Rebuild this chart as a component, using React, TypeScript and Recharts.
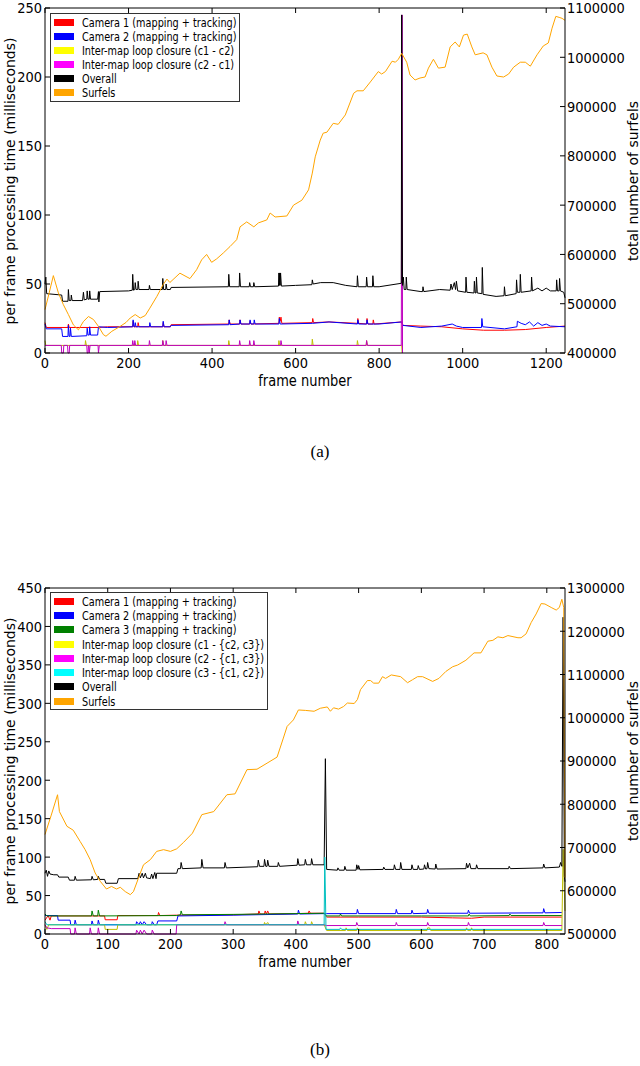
import { LineChart, Line, XAxis, YAxis, ReferenceLine } from 'recharts';

// ---------- chart (a): two cameras ----------
const FRAME_TICKS_A = [0, 200, 400, 600, 800, 1000, 1200];
const TIME_TICKS_A = [0, 50, 100, 150, 200, 250];
const SURFEL_TICKS_A = [400000, 500000, 600000, 700000, 800000, 900000, 1000000, 1100000];

const NAMES_A = [
  'Camera 1 (mapping + tracking)',
  'Camera 2 (mapping + tracking)',
  'Inter-map loop closure (c1 - c2)',
  'Inter-map loop closure (c2 - c1)',
  'Overall',
  'Surfels',
];
const SWATCH_A = ['#ff0000', '#0000ff', '#ffff00', '#ff00ff', '#000000', '#ffa500'];
const STROKE_A = ['#ff0000', '#0000ff', '#bfbf00', '#bf00bf', '#000000', '#ffa500'];

// [frame, milliseconds]
const cam1A = [
  [0, 22], [3, 18.5], [55, 18.5], [56, 21], [58, 18.5], [128, 18.5], [150, 19], [210, 19], [211, 23], [213, 19],
  [222, 19], [223, 22], [225, 19], [282, 19], [283, 22], [285, 19], [300, 19], [302, 20.5], [440, 21], [441, 24],
  [443, 21], [466, 21], [467, 24], [469, 21], [490, 21], [491, 23], [493, 21], [560, 21.5], [561, 26], [563, 23],
  [565, 26], [567, 21.5], [640, 22], [641, 25], [643, 22], [680, 22.5], [748, 21.5], [749, 25], [751, 21.5],
  [770, 21], [771, 25], [773, 21], [785, 21], [786, 24], [788, 21], [854, 22.5], [857, 20], [900, 19.5],
  [950, 19], [1000, 17.5], [1050, 16.5], [1100, 16.5], [1150, 17], [1200, 18.5], [1245, 19.5],
];
const cam2A = [
  [0, 21], [3, 17.5], [40, 17.5], [42, 12], [55, 12], [56, 20], [58, 12], [60, 12], [61, 18], [63, 12],
  [100, 12.5], [101, 18], [103, 13], [106, 13], [107, 19], [109, 13], [126, 13], [128, 19], [150, 18.5],
  [210, 19], [211, 24], [213, 19], [215, 19], [216, 22], [218, 19], [250, 19], [251, 22], [253, 19], [282, 19],
  [283, 23], [285, 19], [300, 19], [302, 20], [440, 20.5], [441, 24], [443, 20.5], [466, 21], [467, 24], [469, 21],
  [490, 21], [491, 24], [493, 21], [500, 21], [501, 24], [503, 21], [560, 21], [561, 25], [563, 21], [640, 21.5],
  [680, 22.5], [748, 21], [749, 24], [751, 21], [770, 21], [771, 24], [773, 21], [800, 21], [854, 22.5],
  [857, 20], [900, 18.5], [950, 19.5], [975, 21], [985, 19.5], [1000, 18.5], [1045, 18.5], [1046, 25],
  [1048, 19], [1100, 17.5], [1130, 19], [1131, 23], [1140, 21.5], [1150, 20.5], [1160, 22.5], [1170, 19.5],
  [1180, 22], [1190, 20], [1200, 21], [1210, 19.5], [1245, 19],
];
const loopC1C2A = [
  [0, 9], [2, 5.5], [96, 5.5], [97, 9], [99, 5.5], [221, 5.5], [222, 9], [224, 5.5], [281, 5.5], [282, 9],
  [284, 5.5], [439, 5.5], [440, 9], [442, 5.5], [559, 5.5], [560, 9], [562, 5.5], [639, 5.5], [640, 10],
  [642, 5.5], [747, 5.5], [748, 9], [750, 5.5], [769, 5.5], [770, 9], [772, 5.5], [854, 5.5], [855, 0],
];
const loopC2C1A = [
  [0, 5.5], [39, 5.5], [40, 0], [44, 0], [45, 5.5], [54, 5.5], [55, 0], [58, 0], [59, 5.5], [100, 5.5],
  [101, 0], [103, 0], [104, 5.5], [105, 5.5], [106, 0], [108, 5.5], [127, 5.5], [128, 0], [130, 5.5],
  [209, 5.5], [210, 9], [212, 5.5], [214, 5.5], [215, 9], [217, 5.5], [249, 5.5], [250, 9], [252, 5.5],
  [281, 5.5], [282, 9], [284, 5.5], [289, 5.5], [290, 9], [292, 5.5], [465, 5.5], [466, 9], [468, 5.5],
  [489, 5.5], [490, 9], [492, 5.5], [499, 5.5], [500, 9], [502, 5.5], [564, 5.5], [565, 9], [567, 5.5],
  [769, 5.5], [770, 9], [772, 5.5], [853, 5.5], [855, 245], [856, 0],
];
const overallA = [
  [0, 50], [2, 55], [4, 43], [40, 42], [42, 37.5], [55, 37.5], [56, 46], [58, 38], [62, 38], [63, 42], [65, 38],
  [90, 38], [92, 44], [94, 38.5], [100, 39], [101, 45], [103, 39], [106, 39], [107, 45], [109, 39], [126, 39],
  [128, 44.5], [129, 37], [131, 44.5], [200, 45], [209, 45.5], [210, 57], [212, 45.5], [215, 46], [216, 51],
  [218, 46], [222, 46], [223, 52], [225, 46], [249, 46], [250, 49], [252, 46], [281, 46], [282, 54], [284, 46],
  [289, 46], [290, 50], [292, 46], [300, 46], [302, 47.5], [439, 48], [440, 57], [442, 48], [465, 48], [466, 58],
  [468, 48], [489, 48], [490, 51], [492, 48], [499, 48], [500, 51], [502, 48], [559, 48.5], [560, 58], [561, 49],
  [562, 58], [563, 49], [564, 58], [566, 48.5], [600, 49], [639, 49.5], [640, 53], [642, 50], [660, 51],
  [690, 51], [720, 49], [747, 48], [748, 56], [750, 48], [769, 48], [770, 55], [772, 48], [784, 48], [785, 56],
  [787, 48], [800, 48], [853, 50.5], [854, 245], [856, 49], [858, 55], [860, 46], [864, 46], [865, 55], [867, 46],
  [900, 44.5], [904, 44.5], [905, 48], [907, 44.5], [945, 46], [970, 45.5], [972, 50], [975, 46], [980, 51],
  [983, 46], [985, 52], [988, 45], [1007, 44], [1008, 55], [1010, 44], [1027, 43.5], [1028, 52], [1030, 43.5],
  [1032, 43.5], [1033, 55], [1035, 43.5], [1046, 43], [1047, 62], [1049, 42.5], [1080, 41], [1099, 41.5],
  [1100, 48], [1102, 41.5], [1128, 43], [1129, 53], [1131, 44], [1137, 44], [1138, 57], [1140, 44], [1164, 45],
  [1165, 55], [1167, 45], [1180, 47], [1190, 45], [1200, 47], [1210, 45], [1224, 45], [1225, 53], [1227, 45],
  [1231, 45], [1232, 54], [1234, 45], [1242, 44], [1245, 40],
];
// [frame, surfels]
const surfelsA = [
  [0, 488000], [10, 522000], [20, 557000], [32, 522000], [44, 498000], [56, 478000], [68, 457000], [80, 447000],
  [92, 464000], [104, 474000], [116, 468000], [128, 454000], [140, 437000], [146, 434000], [160, 444000],
  [180, 454000], [194, 462000], [204, 471000], [216, 478000], [228, 471000], [240, 476000], [251, 491000],
  [268, 515000], [283, 539000], [292, 550000], [299, 543000], [323, 562000], [347, 551000], [363, 569000],
  [375, 589000], [387, 600000], [399, 584000], [411, 591000], [427, 603000], [443, 616000], [459, 630000],
  [467, 656000], [483, 666000], [500, 656000], [511, 664000], [531, 670000], [539, 684000], [551, 676000],
  [579, 678000], [595, 700000], [615, 710000], [631, 731000], [640, 765000], [647, 798000], [659, 832000],
  [666, 846000], [675, 848000], [690, 866000], [702, 864000], [719, 883000], [739, 927000], [747, 932000],
  [762, 932000], [779, 950000], [798, 971000], [806, 966000], [815, 971000], [831, 992000], [839, 990000],
  [846, 996000], [854, 1008000], [866, 990000], [874, 964000], [886, 954000], [898, 958000], [910, 960000],
  [918, 978000], [930, 996000], [942, 978000], [958, 980000], [970, 1021000], [982, 1031000], [992, 1021000],
  [1002, 1045000], [1011, 1047000], [1022, 1021000], [1030, 1005000], [1049, 1009000], [1058, 1005000],
  [1070, 980000], [1082, 962000], [1098, 960000], [1110, 966000], [1122, 980000], [1138, 990000],
  [1150, 990000], [1162, 982000], [1178, 1005000], [1193, 1023000], [1205, 1029000], [1214, 1059000],
  [1223, 1083000], [1231, 1081000], [1238, 1079000], [1245, 1075000],
];

// ---------- chart (b): three cameras ----------
const FRAME_TICKS_B = [0, 100, 200, 300, 400, 500, 600, 700, 800];
const TIME_TICKS_B = [0, 50, 100, 150, 200, 250, 300, 350, 400, 450];
const SURFEL_TICKS_B = [500000, 600000, 700000, 800000, 900000, 1000000, 1100000, 1200000, 1300000];

const NAMES_B = [
  'Camera 1 (mapping + tracking)',
  'Camera 2 (mapping + tracking)',
  'Camera 3 (mapping + tracking)',
  'Inter-map loop closure (c1 - {c2, c3})',
  'Inter-map loop closure (c2 - {c1, c3})',
  'Inter-map loop closure (c3 - {c1, c2})',
  'Overall',
  'Surfels',
];
const SWATCH_B = ['#ff0000', '#0000ff', '#008000', '#ffff00', '#ff00ff', '#00ffff', '#000000', '#ffa500'];
const STROKE_B = ['#ff0000', '#0000ff', '#008000', '#bfbf00', '#bf00bf', '#00bfbf', '#000000', '#ffa500'];

const cam1B = [
  [0, 18], [5, 24], [8, 18], [10, 23.5], [95, 23.5], [96, 18.5], [115, 18.5], [116, 24], [180, 24], [181, 28],
  [183, 24], [210, 24.5], [300, 25], [340, 26], [341, 30], [343, 26], [350, 26], [351, 30], [353, 26], [355, 30],
  [357, 26], [400, 26.5], [420, 27], [421, 30], [423, 27], [445, 27], [449, 22], [500, 22], [600, 22], [650, 21],
  [680, 20.5], [700, 22], [824, 22],
];
const cam2B = [
  [0, 24], [20, 24], [21, 18], [40, 18], [41, 12], [47, 12], [48, 18], [50, 12], [74, 12], [75, 17], [77, 12],
  [84, 12], [85, 18], [87, 12], [145, 12], [146, 16], [150, 12], [152, 16], [155, 12], [158, 16], [162, 12],
  [170, 12], [171, 16], [174, 12], [178, 12], [180, 17], [210, 17], [212, 23.5], [300, 24.5], [403, 26],
  [404, 31], [406, 26], [445, 26.5], [449, 26.5], [497, 26.5], [498, 32], [500, 26.5], [559, 26.5], [560, 32],
  [562, 26.5], [584, 26.5], [585, 31], [587, 26.5], [609, 27], [610, 32], [612, 27], [674, 27], [675, 31],
  [677, 27], [794, 27.5], [795, 33], [797, 27.5], [824, 28],
];
const cam3B = [
  [0, 26], [3, 23.5], [74, 23.5], [75, 30], [77, 23.5], [84, 23.5], [85, 31], [87, 23.5], [210, 24], [216, 25],
  [217, 30], [219, 25], [300, 25.5], [400, 26.5], [445, 27], [449, 23.5], [470, 23.5], [471, 26], [473, 23.5],
  [600, 23.5], [675, 23.5], [676, 26], [678, 23.5], [740, 24], [741, 26], [743, 24], [824, 24],
];
const loopC1B = [
  [0, 12], [3, 6], [6, 12], [95, 12], [96, 6], [115, 6], [116, 12], [349, 12], [350, 15], [352, 12], [355, 15],
  [357, 12], [414, 12], [415, 16], [417, 12], [424, 12], [425, 16], [427, 12], [445, 12], [449, 4.5], [479, 4.5],
  [480, 8], [482, 4.5], [497, 4.5], [498, 8], [500, 4.5], [609, 4.5], [610, 8], [613, 8], [615, 4.5],
  [671, 4.5], [672, 8], [674, 4.5], [679, 4.5], [680, 8], [682, 4.5], [824, 4.5], [826, 110], [829, 30],
];
const loopC2B = [
  [0, 12], [3, 8], [10, 7], [40, 7], [41, 0], [47, 0], [48, 8], [50, 0], [71, 0], [72, 8], [74, 0], [84, 0],
  [85, 8], [87, 0], [145, 0], [146, 5], [150, 0], [152, 5], [155, 0], [158, 5], [162, 0], [170, 0], [171, 5],
  [174, 0], [209, 0], [210, 12], [286, 12], [287, 16], [289, 12], [402, 12], [403, 17], [405, 12], [445, 12],
  [449, 11], [496, 11], [497, 15], [499, 11], [559, 11], [560, 15], [562, 11], [609, 11], [610, 15], [612, 11],
  [674, 11], [675, 15], [677, 11], [794, 11], [795, 15], [797, 11], [824, 11],
];
const loopC3B = [
  [0, 16], [3, 12], [445, 12], [446, 100], [448, 6], [470, 6], [471, 8], [473, 6], [824, 6],
];
const overallB = [
  [0, 79], [2, 83], [4, 75], [6, 82], [8, 78], [14, 77], [20, 77], [22, 74], [37, 74], [39, 70], [47, 70],
  [48, 75], [50, 70], [74, 70.5], [75, 75], [77, 70.5], [84, 71], [85, 75], [87, 71], [95, 71], [97, 66],
  [115, 66], [117, 72], [148, 72], [150, 79], [152, 73], [155, 79], [157, 73], [160, 79], [162, 73], [168, 72],
  [170, 78], [172, 72], [175, 80], [177, 72], [178, 79], [210, 79], [212, 85], [216, 85], [217, 93], [219, 85],
  [249, 86], [250, 97], [252, 86], [286, 86], [287, 93], [289, 86], [339, 87.5], [340, 96], [342, 88], [349, 88],
  [350, 97], [352, 88], [354, 88], [355, 96], [357, 88], [371, 88], [372, 93], [374, 88], [402, 89.5], [403, 98],
  [405, 89.5], [414, 90], [415, 97], [417, 90], [424, 90], [425, 98], [427, 90], [445, 90], [447, 228], [449, 84],
  [466, 83], [467, 86], [469, 83], [477, 83], [478, 88], [480, 83], [496, 83], [497, 90], [499, 84], [500, 89],
  [502, 83.5], [539, 84], [540, 87], [542, 84], [556, 84], [557, 90], [559, 84], [566, 84], [567, 93], [569, 84],
  [584, 84], [585, 90], [587, 84], [594, 84], [595, 89], [597, 84], [604, 84.5], [605, 90], [607, 84.5],
  [609, 85], [610, 93], [612, 85], [622, 84.5], [623, 91], [625, 84.5], [671, 85], [672, 92], [674, 86],
  [677, 92], [679, 85], [687, 85], [688, 90], [690, 85], [739, 85], [740, 88], [742, 85], [794, 86], [795, 91],
  [797, 86], [820, 87], [822, 93], [824, 88], [826, 412], [828, 75], [829, 68],
];
const surfelsB = [
  [0, 730000], [10, 775000], [20, 822000], [23, 783000], [35, 749000], [45, 740000], [56, 714000], [64, 695000],
  [72, 672000], [80, 641000], [88, 622000], [98, 604000], [106, 610000], [114, 604000], [120, 608000],
  [128, 598000], [136, 591000], [141, 598000], [152, 641000], [157, 660000], [168, 672000], [178, 691000],
  [189, 695000], [200, 691000], [210, 697000], [221, 712000], [235, 733000], [250, 776000], [269, 783000],
  [290, 822000], [303, 824000], [322, 880000], [338, 881000], [354, 895000], [370, 909000], [380, 953000],
  [386, 980000], [396, 995000], [404, 1018000], [415, 1017000], [429, 1015000], [439, 1022000], [450, 1025000],
  [455, 1015000], [460, 1023000], [468, 1020000], [476, 1026000], [482, 1034000], [493, 1033000],
  [498, 1042000], [503, 1065000], [514, 1086000], [519, 1086000], [524, 1080000], [532, 1080000],
  [538, 1095000], [543, 1091000], [552, 1099000], [567, 1095000], [578, 1081000], [586, 1088000],
  [594, 1095000], [602, 1095000], [618, 1084000], [628, 1091000], [639, 1107000], [650, 1118000],
  [658, 1122000], [671, 1133000], [684, 1150000], [695, 1150000], [706, 1177000], [714, 1179000],
  [722, 1187000], [730, 1185000], [738, 1190000], [754, 1185000], [759, 1185000], [767, 1194000],
  [775, 1220000], [783, 1240000], [791, 1264000], [797, 1263000], [807, 1255000], [815, 1249000],
  [820, 1255000], [824, 1274000], [827, 1255000], [829, 630000],
];

const FONT = 'DejaVu Sans, sans-serif';
const STRETCH = 1.15; // the source figure is slightly taller than wide
const toPts = (arr: number[][]) => arr.map(([f, v]) => ({ f, v }));

const TickText = ({ x, y, anchor, value }: { x: number; y: number; anchor: string; value: any }) => (
  <text
    transform={`translate(${x} ${y}) scale(1 ${STRETCH})`}
    textAnchor={anchor}
    fontSize={13}
    fontFamily={FONT}
    fill="#000"
  >
    {value}
  </text>
);

// matplotlib-style inward ticks
const xTick = (top: number, bottom: number) => (props: any) => {
  const { x, payload } = props;
  return (
    <g>
      <line x1={x} x2={x} y1={bottom} y2={bottom - 5} stroke="#000" />
      <line x1={x} x2={x} y1={top} y2={top + 5} stroke="#000" />
      <TickText x={x} y={bottom + 15} anchor="middle" value={payload.value} />
    </g>
  );
};
const leftTick = (left: number) => (props: any) => {
  const { y, payload } = props;
  return (
    <g>
      <line x1={left} x2={left + 5} y1={y} y2={y} stroke="#000" />
      <TickText x={left - 3} y={y + 5.4} anchor="end" value={payload.value} />
    </g>
  );
};
const rightTick = (right: number) => (props: any) => {
  const { y, payload } = props;
  return (
    <g>
      <line x1={right - 5} x2={right} y1={y} y2={y} stroke="#000" />
      <TickText x={right + 2} y={y + 5.4} anchor="start" value={payload.value} />
    </g>
  );
};

interface PanelProps {
  top: number;
  plotBottom: number;
  frameMax: number;
  frameTicks: number[];
  timeTicks: number[];
  surfelTicks: number[];
  series: number[][][];
  strokes: string[];
  order: number[];
  names: string[];
  swatches: string[];
  legendTop: number;
  legendWidth: number;
  legendRow: number;
  caption: string;
  captionY: number;
}

function Panel(p: PanelProps) {
  const H = 400;
  const left = 45;
  const right = 565;
  const plotTop = 8;
  const surfelIdx = p.series.length - 1;
  const timeMax = p.timeTicks[p.timeTicks.length - 1];
  const midY = p.top + (plotTop + p.plotBottom) / 2;
  return (
    <>
      <div style={{ position: 'absolute', left: 0, top: p.top }}>
        <LineChart width={640} height={H} margin={{ top: plotTop, right: 0, bottom: 0, left: 0 }}>
          <XAxis
            dataKey="f"
            type="number"
            domain={[0, p.frameMax]}
            ticks={p.frameTicks}
            interval={0}
            height={H - p.plotBottom}
            axisLine={{ stroke: '#000' }}
            tickLine={false}
            tick={xTick(plotTop, p.plotBottom)}
          />
          <YAxis
            yAxisId="left"
            domain={[0, timeMax]}
            ticks={p.timeTicks}
            interval={0}
            width={left}
            axisLine={{ stroke: '#000' }}
            tickLine={false}
            tick={leftTick(left)}
          />
          <YAxis
            yAxisId="right"
            orientation="right"
            domain={[p.surfelTicks[0], p.surfelTicks[p.surfelTicks.length - 1]]}
            ticks={p.surfelTicks}
            interval={0}
            width={640 - right}
            axisLine={{ stroke: '#000' }}
            tickLine={false}
            tick={rightTick(right)}
          />
          <ReferenceLine yAxisId="left" y={timeMax} stroke="#000" />
          {p.order.map((i) => (
            <Line
              key={i}
              yAxisId={i === surfelIdx ? 'right' : 'left'}
              data={toPts(p.series[i])}
              dataKey="v"
              type="linear"
              stroke={p.strokes[i]}
              strokeWidth={1}
              dot={false}
              activeDot={false}
              isAnimationActive={false}
            />
          ))}
        </LineChart>
      </div>

      {/* legend */}
      <div
        style={{
          position: 'absolute',
          left: 50,
          top: p.top + p.legendTop,
          width: p.legendWidth,
          border: '1px solid #333',
          background: '#fff',
          padding: '1px 0 1px 3px',
          boxSizing: 'border-box',
          fontFamily: FONT,
          fontSize: 9.7,
        }}
      >
        {p.names.map((name, i) => (
          <div key={name} style={{ display: 'flex', alignItems: 'center', height: p.legendRow }}>
            <span style={{ width: 20, height: 7, background: p.swatches[i], marginRight: 8, flex: 'none' }} />
            <span style={{ whiteSpace: 'nowrap', display: 'inline-block', transform: 'scaleY(1.2)' }}>{name}</span>
          </div>
        ))}
      </div>

      {/* axis titles */}
      <div
        style={{
          position: 'absolute',
          left: 9.5,
          top: midY,
          transform: 'translate(-50%, -50%) rotate(-90deg)',
          whiteSpace: 'nowrap',
          fontFamily: FONT,
          fontSize: 14,
          lineHeight: '15px',
        }}
      >
        per frame processing time (milliseconds)
      </div>
      <div
        style={{
          position: 'absolute',
          left: 633,
          top: midY,
          transform: 'translate(-50%, -50%) rotate(-90deg)',
          whiteSpace: 'nowrap',
          fontFamily: FONT,
          fontSize: 14,
          lineHeight: '15px',
        }}
      >
        total number of surfels
      </div>
      <div
        style={{
          position: 'absolute',
          left: left,
          width: right - left,
          top: p.top + p.plotBottom + 21,
          textAlign: 'center',
          fontFamily: FONT,
          fontSize: 13,
          lineHeight: '13px',
          transform: `scaleY(${STRETCH})`,
        }}
      >
        frame number
      </div>
      <div
        style={{
          position: 'absolute',
          left: 0,
          width: 640,
          top: p.captionY - 9,
          textAlign: 'center',
          fontFamily: 'Liberation Serif, serif',
          fontSize: 17,
          lineHeight: '18px',
        }}
      >
        {p.caption}
      </div>
    </>
  );
}

export default function App() {
  return (
    <div style={{ position: 'absolute', left: 0, top: 0, width: 640, height: 1066, background: '#fff' }}>
      <Panel
        top={0}
        plotBottom={353}
        frameMax={1245}
        frameTicks={FRAME_TICKS_A}
        timeTicks={TIME_TICKS_A}
        surfelTicks={SURFEL_TICKS_A}
        series={[cam1A, cam2A, loopC1C2A, loopC2C1A, overallA, surfelsA]}
        strokes={STROKE_A}
        order={[0, 1, 2, 3, 4, 5]}
        names={NAMES_A}
        swatches={SWATCH_A}
        legendTop={13}
        legendWidth={190}
        legendRow={14.1}
        caption="(a)"
        captionY={452}
      />
      <Panel
        top={580}
        plotBottom={354}
        frameMax={829}
        frameTicks={FRAME_TICKS_B}
        timeTicks={TIME_TICKS_B}
        surfelTicks={SURFEL_TICKS_B}
        series={[cam1B, cam2B, cam3B, loopC1B, loopC2B, loopC3B, overallB, surfelsB]}
        strokes={STROKE_B}
        order={[0, 1, 2, 3, 4, 6, 5, 7]}
        names={NAMES_B}
        swatches={SWATCH_B}
        legendTop={12}
        legendWidth={218}
        legendRow={14.3}
        caption="(b)"
        captionY={1050}
      />
    </div>
  );
}
